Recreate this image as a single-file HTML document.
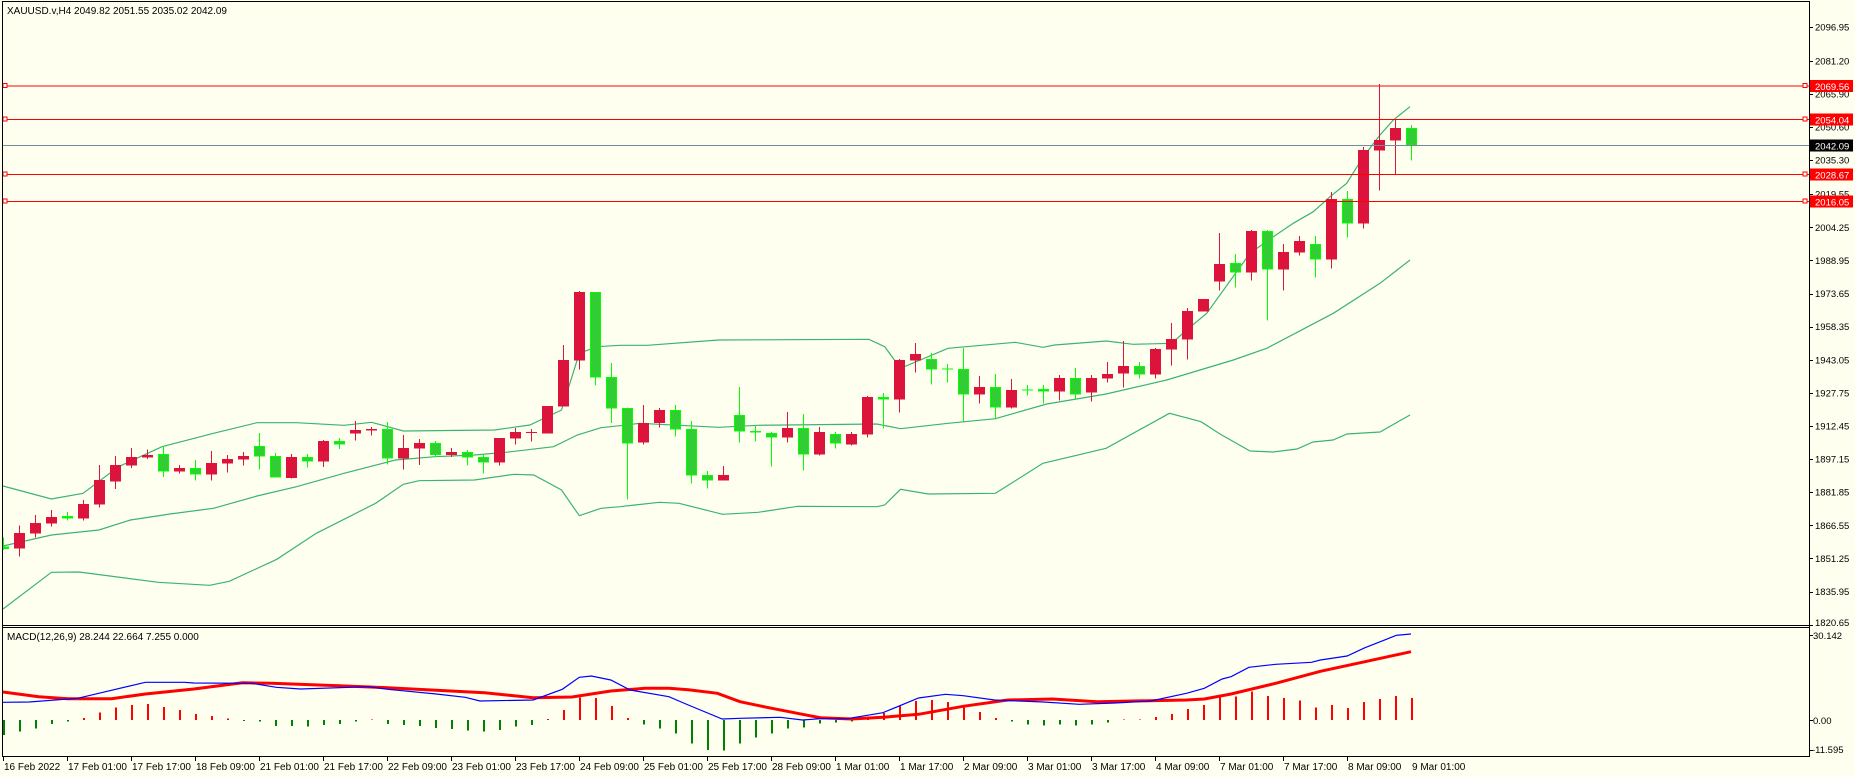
<!DOCTYPE html>
<html><head><meta charset="utf-8"><style>
html,body{margin:0;padding:0;background:#FFFFF0;}
svg{display:block;}
text{font-family:"Liberation Sans",sans-serif;font-size:10px;fill:#000;}
text.r{font-size:9.5px;}
</style></head><body>
<svg id="s" width="1855" height="777" viewBox="0 0 1855 777" xmlns="http://www.w3.org/2000/svg" shape-rendering="crispEdges">
<rect x="0" y="0" width="1855" height="777" fill="#FFFFF0"/>
<g id="bands" fill="none" stroke="#3CB371" stroke-width="1"></g>
<g id="candles"></g>
<g id="macd"></g>
<line x1="3" y1="145.5" x2="1809" y2="145.5" stroke="#778899" stroke-width="1"/>
<g stroke="#FF0000" stroke-width="1.3">
<line x1="3" y1="86" x2="1809" y2="86"/>
<line x1="3" y1="119.5" x2="1809" y2="119.5"/>
<line x1="3" y1="174.5" x2="1809" y2="174.5"/>
<line x1="3" y1="201.5" x2="1809" y2="201.5"/>
</g>
<g fill="#fff" stroke="#FF0000" stroke-width="1">
<rect x="3" y="83.5" width="4" height="4"/><rect x="1803" y="83.5" width="4" height="4"/>
<rect x="3" y="117" width="4" height="4"/><rect x="1803" y="117" width="4" height="4"/>
<rect x="3" y="172" width="4" height="4"/><rect x="1803" y="172" width="4" height="4"/>
<rect x="3" y="199" width="4" height="4"/><rect x="1803" y="199" width="4" height="4"/>
</g>
<g stroke="#000" stroke-width="1" fill="none">
<line x1="2.5" y1="1" x2="2.5" y2="757"/>
<line x1="2" y1="1.5" x2="1809" y2="1.5"/>
<line x1="1809.5" y1="1" x2="1809.5" y2="757"/>
<line x1="2" y1="625.5" x2="1810" y2="625.5"/>
<line x1="2" y1="627.5" x2="1810" y2="627.5"/>
<line x1="2" y1="756.5" x2="1810" y2="756.5"/>
</g>
<g id="ticks" stroke="#000" stroke-width="1"></g>
<text x="7" y="14">XAUUSD.v,H4  2049.82 2051.55 2035.02 2042.09</text>
<text x="7" y="640">MACD(12,26,9) 28.244 22.664 7.255 0.000</text>
<g>
<text class="r" x="1815" y="30.5">2096.95</text>
<text class="r" x="1815" y="64.5">2081.20</text>
<text class="r" x="1815" y="97.5">2065.90</text>
<text class="r" x="1815" y="130.5">2050.60</text>
<text class="r" x="1815" y="163.5">2035.30</text>
<text class="r" x="1815" y="197.5">2019.55</text>
<text class="r" x="1815" y="231">2004.25</text>
<text class="r" x="1815" y="264">1988.95</text>
<text class="r" x="1815" y="297">1973.65</text>
<text class="r" x="1815" y="330">1958.35</text>
<text class="r" x="1815" y="363.5">1943.05</text>
<text class="r" x="1815" y="396.5">1927.75</text>
<text class="r" x="1815" y="429.5">1912.45</text>
<text class="r" x="1815" y="462.5">1897.15</text>
<text class="r" x="1815" y="495.5">1881.85</text>
<text class="r" x="1815" y="529">1866.55</text>
<text class="r" x="1815" y="562">1851.25</text>
<text class="r" x="1815" y="595">1835.95</text>
<text class="r" x="1815" y="626">1820.65</text>
</g>
<rect x="1810" y="80" width="43" height="12" fill="#FF0000"/>
<rect x="1810" y="113.5" width="43" height="12" fill="#FF0000"/>
<rect x="1810" y="139.5" width="43" height="12" fill="#000"/>
<rect x="1810" y="168.5" width="43" height="12" fill="#FF0000"/>
<rect x="1810" y="195.5" width="43" height="12" fill="#FF0000"/>
<text class="r" x="1815" y="90" style="fill:#fff">2069.56</text>
<text class="r" x="1815" y="123.5" style="fill:#fff">2054.04</text>
<text class="r" x="1815" y="149.5" style="fill:#fff">2042.09</text>
<text class="r" x="1815" y="178.5" style="fill:#fff">2028.67</text>
<text class="r" x="1815" y="205.5" style="fill:#fff">2016.05</text>
<text class="r" x="1813" y="639">30.142</text>
<text class="r" x="1813" y="724">0.00</text>
<text class="r" x="1812" y="753">-11.595</text>
<g>
<text x="4" y="770">16 Feb 2022</text>
<text x="68" y="770">17 Feb 01:00</text>
<text x="132" y="770">17 Feb 17:00</text>
<text x="196" y="770">18 Feb 09:00</text>
<text x="260" y="770">21 Feb 01:00</text>
<text x="324" y="770">21 Feb 17:00</text>
<text x="388" y="770">22 Feb 09:00</text>
<text x="452" y="770">23 Feb 01:00</text>
<text x="516" y="770">23 Feb 17:00</text>
<text x="580" y="770">24 Feb 09:00</text>
<text x="644" y="770">25 Feb 01:00</text>
<text x="708" y="770">25 Feb 17:00</text>
<text x="772" y="770">28 Feb 09:00</text>
<text x="836" y="770">1 Mar 01:00</text>
<text x="900" y="770">1 Mar 17:00</text>
<text x="964" y="770">2 Mar 09:00</text>
<text x="1028" y="770">3 Mar 01:00</text>
<text x="1092" y="770">3 Mar 17:00</text>
<text x="1156" y="770">4 Mar 09:00</text>
<text x="1220" y="770">7 Mar 01:00</text>
<text x="1284" y="770">7 Mar 17:00</text>
<text x="1348" y="770">8 Mar 09:00</text>
<text x="1412" y="770">9 Mar 01:00</text>
</g>
</svg>
<script>
(function(){
var NS="http://www.w3.org/2000/svg";
function el(p,n,a){var e=document.createElementNS(NS,n);for(var k in a)e.setAttribute(k,a[k]);p.appendChild(e);return e;}
var cg=document.getElementById('candles');
var A={
"-1":[1,920,927,893,930],0:[0,879,926,857,950],1:[0,849,881,825,893],2:[0,831,851,810,860],3:[1,828,836,816,842],
4:[0,792,836,780,842],5:[0,720,794,675,803],6:[0,675,725,648,747],7:[0,651,677,624,684],8:[0,645,653,628,657],
9:[1,642,695,618,711],10:[0,684,695,675,701],11:[1,684,704,660,722],12:[0,669,704,633,722],13:[0,657,671,645,698],
14:[0,648,659,636,677],15:[1,618,650,579,689],16:[1,648,713,639,713],17:[0,651,714,642,716],18:[1,651,665,642,683],
19:[0,603,665,600,681],20:[1,603,614,594,627],21:[0,570,581,543,602],22:[0,567,572,561,587],23:[1,567,656,546,674],
24:[0,624,656,585,689],25:[0,609,626,597,675],26:[1,609,645,603,651],27:[0,636,645,624,651],28:[1,636,653,630,677],
29:[1,651,668,642,701],30:[0,594,668,594,677],31:[0,576,596,564,614],32:[0,576,579,567,605],33:[0,498,581,498,581],
34:[0,360,500,315,500],35:[0,156,362,153,389],36:[1,156,412,156,437],37:[1,411,506,369,549],
38:[1,504,610,502,778],39:[0,549,608,495,614],40:[0,510,549,504,563],41:[1,510,569,495,590],42:[1,567,707,543,731],
43:[1,705,722,693,746],44:[0,705,722,678,722],45:[1,525,575,441,608],46:[1,573,578,555,605],47:[1,579,593,576,680],
48:[0,564,593,516,608],49:[1,564,644,522,692],50:[0,576,644,561,647],51:[1,582,611,576,626],52:[0,582,614,576,617],
53:[0,471,584,468,593],54:[1,471,479,459,566],55:[0,360,479,357,518],56:[0,342,362,309,398],57:[1,357,389,339,434],
58:[1,386,389,372,428],59:[1,387,464,324,545],60:[0,441,464,408,491],61:[1,441,503,402,539],62:[0,450,503,417,506],
63:[1,449,452,435,467],64:[1,447,455,435,491],65:[0,414,455,405,482],66:[1,414,464,384,476],67:[0,414,458,405,485]};
var B={68:[0,942,956,906,968],69:[0,918,941,843,983],70:[1,918,944,906,956],71:[0,867,944,864,956],72:[0,837,869,789,917],
73:[0,753,839,744,899],74:[0,717,755,717,755],75:[0,612,665,519,692],76:[1,609,638,582,683],77:[0,513,638,510,662],
78:[1,513,629,510,782],79:[0,576,629,552,692],80:[0,543,578,528,587],81:[1,552,599,528,653],82:[0,417,599,396,626],
83:[1,417,491,393,533],84:[0,270,491,261,506],85:[0,240,272,72,392],86:[0,204,242,180,342],87:[1,204,256,195,302]};
function draw(i,d,off){
 var cx=Math.round(19.4+16*i);
 var bt=off+d[1]/3,bb=off+d[2]/3,wt=off+d[3]/3,wb=off+d[4]/3;
 var red=d[0]==0;
 var wc=red?"#DC143C":"#00FF00";
 var x0=Math.max(3,cx-5);
 el(cg,'rect',{x:cx,y:wt.toFixed(1),width:1,height:Math.max(1,wb-wt).toFixed(1),fill:wc});
 var h=Math.max(1,bb-bt);
 if(red) el(cg,'rect',{x:x0,y:bt.toFixed(1),width:cx+6-x0,height:h.toFixed(1),fill:"#DC143C"});
 else {el(cg,'rect',{x:x0,y:bt.toFixed(1),width:cx+6-x0,height:h.toFixed(1),fill:"#00FF00"});
  if(h>2) el(cg,'rect',{x:x0+1,y:(bt+1).toFixed(1),width:cx+4-x0,height:(h-2).toFixed(1),fill:"#32CD32"});}
}
for(var k in A) draw(+k,A[k],240);
for(var k in B) draw(+k,B[k],60);
var bg=document.getElementById('bands');
function pl(g,pts,col,w){el(g,'polyline',{points:pts.map(function(p){return p[0]+','+p[1]}).join(' '),stroke:col,'stroke-width':w,fill:'none','shape-rendering':'auto'});}
var up=[[3,486],[51.4,499],[83,493.3],[118.6,466.7],[162,446.7],[213.5,433.3],[257,422.7],[296.6,422.7],[344,425.3],[371.7,422.3],[403.3,431],[494.3,430],[529.9,425],[561.5,410],[579.3,353.3],[597,346.7],[620,345.3],[647.4,345.3],[718.6,340],[868.9,339.3],[884.7,346.7],[900.5,368.3],[948,348.3],[1015.2,342.3],[1042.9,347.3],[1054.7,345],[1106.1,341],[1133.3,344.3],[1171.7,343.3],[1186.7,330],[1206.7,313.3],[1250,253.3],[1273.3,236.7],[1293.3,223.3],[1313.3,211.7],[1330,196.7],[1346.7,183.3],[1363.3,156.7],[1380,135],[1393.3,120],[1410,106.7]];
var mid=[[3,546],[51.4,535],[98.9,530],[130.5,520],[170,514],[213.5,508.3],[257,496],[296.6,486.7],[344,473.3],[395.4,460],[435,456.7],[474.5,455],[506,452.3],[553.6,446.7],[577.3,435],[601,427.7],[620,425.7],[639.5,423.3],[718.6,427.3],[758.2,425.3],[876.8,424],[900.5,428.7],[948,423.3],[995.4,418.7],[1046.8,404],[1106.1,394],[1166.7,380],[1233.3,360],[1266.7,348.3],[1333.3,313.3],[1380,283.3],[1410,260]];
var lo=[[3,609],[51.4,572.3],[79,572],[158.2,582.3],[209.6,585.3],[229.3,581.3],[276.8,559.3],[316.3,533.3],[375.6,503.3],[403.3,484.3],[419.1,480.7],[474.5,480],[514,474.3],[533.8,475],[561.5,490],[579.3,515.7],[601,508.3],[620,506.7],[659.3,502.3],[679,503.3],[722.6,514.3],[758.2,512.3],[797.7,506.3],[876.8,506.7],[884.7,505],[900.5,489.3],[928.2,494],[995.4,493.3],[1042.9,463.3],[1106.1,448.3],[1169.4,413.3],[1201,421.7],[1220,434],[1250,451],[1273,452],[1297,449],[1313,442],[1333,440],[1347,434],[1380,432],[1410,415]];
pl(bg,up,"#3CB371",1.2);pl(bg,mid,"#3CB371",1.2);pl(bg,lo,"#3CB371",1.2);
var H={"-1":345,0:335,1:325,2:312,3:305,4:294,5:278,6:263,7:255,8:252,9:261,10:270,11:282,12:288,13:295,14:301,15:305,16:318,17:318,18:320,19:315,20:312,21:305,22:299,23:312,24:315,25:318,26:324,27:327,28:332,29:335,30:330,31:320,32:315,33:297,34:270,35:232,36:234,37:258,38:294,39:314,40:326,41:341,42:371,43:390,44:392,45:371,46:353,47:341,48:326,49:323,50:311,51:307,52:305,53:290,54:279,55:257,56:243,57:240,58:246,59:258,60:276,61:294,62:305,63:314,64:317,65:314,66:317,67:313,68:308,69:299,70:299,71:291,72:282,73:267,74:255,75:230,76:230,77:215,78:228,79:234,80:242,81:262,82:255,83:264,84:246,85:237,86:228,87:234};
var mg=document.getElementById('macd');
for(var k in H){var i=+k;var cx=Math.round(19.4+16*i);var v=H[k];var y=620+v/3;var z=720;
 if(v<300) el(mg,'rect',{x:cx,y:y.toFixed(1),width:2,height:(z-y).toFixed(1),fill:"#FF0000"});
 else if(v>300) el(mg,'rect',{x:cx,y:z,width:2,height:Math.max(1,y-z).toFixed(1),fill:"#008000"});
 else el(mg,'rect',{x:cx,y:z-1,width:2,height:1,fill:"#FF0000"});}
var blue=[[3,702.3],[29,702],[77.6,698.3],[145.4,682.3],[184.2,682.3],[193.9,683],[252,683.3],[276.3,687.3],[300.5,689],[368.4,686.7],[387.8,689.3],[436.3,694],[465.3,697.3],[479.9,701],[533.2,700],[562.3,689.3],[579.3,677.3],[591.4,676],[610.8,680],[630.2,690],[668.9,696.7],[688.3,705],[722.2,719],[740,718.3],[780.2,717.3],[802.5,720],[820.4,718.7],[847.1,718.7],[882.9,712.7],[918.6,698],[945.4,694.3],[963.2,695.7],[994.5,700],[1043.6,702],[1079.3,704.3],[1115,703],[1150.7,701],[1186.4,693.3],[1204.3,688.3],[1222.1,679],[1231.1,676.7],[1248.9,667.3],[1275.7,664.3],[1311.4,662.3],[1320.4,660],[1347.1,656],[1365,647.7],[1382.9,640.7],[1396.3,635.3],[1411,634]];
var sig=[[3,692],[38.8,696.7],[67.9,698.7],[111.5,698.7],[145.4,694],[193.9,689],[242.4,682.7],[271.4,683.3],[339.3,685.7],[387.8,687.7],[484.7,692.7],[533.2,697.7],[572,697],[610.8,691],[644.7,688.3],[668.9,688.3],[688.3,689.7],[717.4,693.3],[740,701.7],[766.8,707.3],[802.5,714.3],[820.4,717.7],[851.6,719],[882.9,717.3],[918.6,714.3],[963.2,706.3],[1007.9,700],[1052.5,699],[1097.1,701.7],[1186.4,700],[1204.3,699],[1231.1,694],[1275.7,683.3],[1320.4,671.3],[1365,661.7],[1411,651.7]];
pl(mg,sig,"#FF0000",3);pl(mg,blue,"#0000FF",1.2);
var tg=document.getElementById('ticks');
[26.7,60.8,93.9,127,160.1,194.2,227.3,260.4,293.6,326.7,359.8,392.9,426,459.1,492.2,525.3,558.4,591.5,624.6].forEach(function(y){el(tg,'line',{x1:1809,x2:1813,y1:Math.round(y)+.5,y2:Math.round(y)+.5});});
[635,720,750].forEach(function(y){el(tg,'line',{x1:1809,x2:1813,y1:y+.5,y2:y+.5});});
for(var j=0;j<=21;j++){var x=(j==0?3:67+64*(j-1))+.5;el(tg,'line',{x1:x,x2:x,y1:757,y2:761});}
})();
</script>
</body></html>
